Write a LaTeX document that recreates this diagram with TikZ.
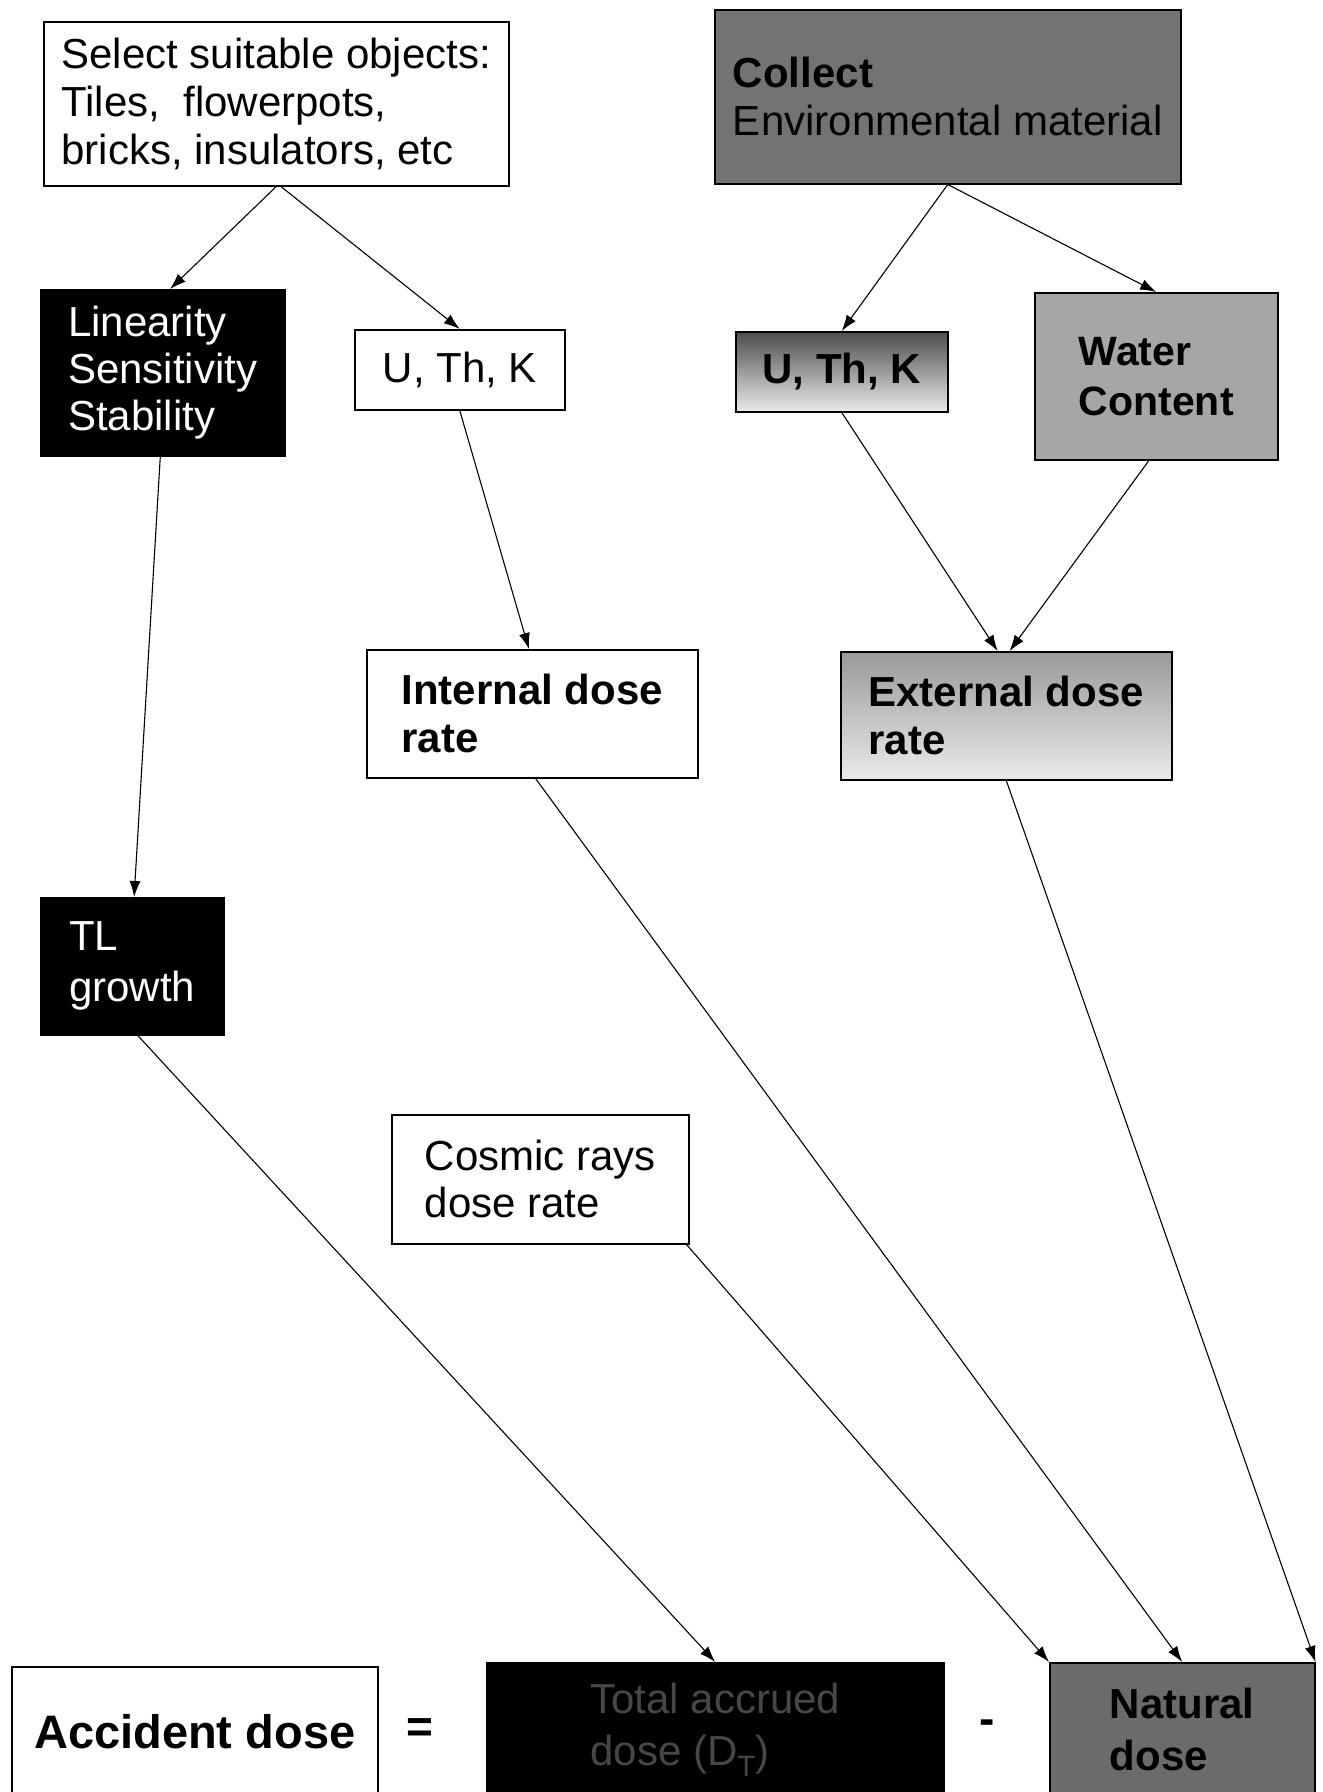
\documentclass[tikz,border=0pt]{standalone}
\usepackage{fontspec}
\setmainfont{Liberation Sans}
\usetikzlibrary{calc,arrows.meta}
\begin{document}
\begin{tikzpicture}[x=1pt,y=-1pt,
  box/.style={draw=black,line width=1.5pt,rectangle,anchor=north west,inner sep=0pt,align=left,font=\fontsize{42}{48}\selectfont},
  boldbox/.style={box,font=\fontsize{42}{48}\selectfont\bfseries},
  darkbox/.style={box,fill=black,text=white},
  arr/.style={line width=1.1pt,-{Latex[length=16pt,width=11pt]}},
  optext/.style={font=\fontsize{46}{50}\selectfont\bfseries,inner sep=0pt}
]
\clip (0,0) rectangle (1323,1792);
\fill[white] (0,0) rectangle (1323,1792);

% top row
\node[box,minimum width=465pt,minimum height=164pt] (sel) at (43,21)
  {Select suitable objects:\\Tiles,\ \ flowerpots,\\bricks, insulators, etc};
\node[box,fill=black!55,minimum width=466pt,minimum height=174pt] (col) at (714,9)
  {{\bfseries Collect}\\Environmental material};

% second row
\node[darkbox,minimum width=244pt,minimum height=166pt,font=\fontsize{42}{47}\selectfont] (lin) at (40,289)
  {Linearity\\Sensitivity\\Stability};
\node[box,minimum width=210pt,minimum height=80pt] (ut1) at (354,329) {U, Th, K};
\node[boldbox,top color=black!70,bottom color=black!8,minimum width=212pt,minimum height=80pt] (ut2) at (735,331) {U, Th, K};
\node[boldbox,fill=black!35,minimum width=243pt,minimum height=167pt,font=\fontsize{41}{50}\selectfont\bfseries] (wat) at (1034,292)
  {Water\\Content};

% dose rates
\node[boldbox,minimum width=331pt,minimum height=128pt] (int) at (366,649) {Internal dose\\rate};
\node[boldbox,top color=black!40,bottom color=black!8,minimum width=331pt,minimum height=128pt] (ext) at (840,651) {External dose\\rate};

\node[darkbox,minimum width=183pt,minimum height=137pt,font=\fontsize{42}{51}\selectfont] (tl) at (40,897) {TL\\growth};
\node[box,minimum width=297pt,minimum height=129pt,font=\fontsize{42}{47}\selectfont] (cos) at (391,1114) {Cosmic rays\\dose rate};

% bottom equation
\node[box,minimum width=366pt,minimum height=130pt,font=\fontsize{47}{50}\selectfont\bfseries] (acc) at (11,1666) {Accident dose};
\node[optext] (eq) at (420,1731) {=};
\node[darkbox,text=black!72,minimum width=457pt,minimum height=134pt,font=\fontsize{42}{52}\selectfont] (tot) at (486,1662)
  {Total accrued\\dose (D$_\mathrm{T}$)};
\node[optext] (mi) at (987,1727) {-};
\node[boldbox,fill=black!58,minimum width=265pt,minimum height=134pt,font=\fontsize{42}{52}\selectfont\bfseries] (nat) at (1049,1662)
  {Natural\\dose};

% connectors
\draw[arr] (sel.south) -- ($(lin.north west)!0.53!(lin.north east)$);
\draw[arr] ($(sel.south west)!0.51!(sel.south east)$) -- (ut1.north);
\draw[arr] (col.south) -- (ut2.north);
\draw[arr] (col.south) -- (wat.north);
\draw[arr] ($(lin.south west)!0.49!(lin.south east)$) -- ($(tl.north west)!0.51!(tl.north east)$);
\draw[arr] (ut1.south) -- ($(int.north west)!0.49!(int.north east)$);
\draw[arr] (ut2.south) -- ($(ext.north west)!0.474!(ext.north east)$);
\draw[arr] ($(wat.south west)!0.47!(wat.south east)$) -- ($(ext.north west)!0.51!(ext.north east)$);
\draw[arr] ($(tl.south west)!0.53!(tl.south east)$) -- (tot.north);
\draw[arr] ($(int.south west)!0.51!(int.south east)$) -- (nat.north);
\draw[arr] ($(cos.south west)!0.99!(cos.south east)$) -- (nat.north west);
\draw[arr] (ext.south) -- (nat.north east);
\end{tikzpicture}
\end{document}
